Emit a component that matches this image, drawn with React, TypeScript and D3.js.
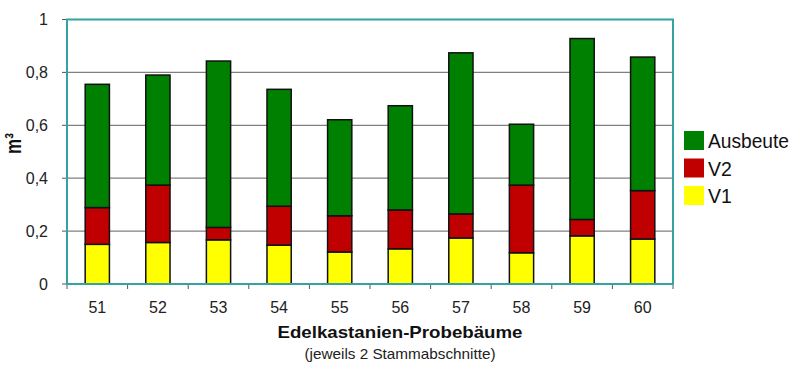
import React from "react";
import * as d3 from "d3";

const categories = ["51", "52", "53", "54", "55", "56", "57", "58", "59", "60"];
const v1 = [0.15, 0.157, 0.167, 0.147, 0.121, 0.133, 0.174, 0.118, 0.182, 0.17];
const v2 = [0.139, 0.217, 0.047, 0.147, 0.137, 0.147, 0.091, 0.256, 0.062, 0.183];
const ausbeute = [0.466, 0.416, 0.629, 0.442, 0.363, 0.394, 0.609, 0.23, 0.684, 0.505];
const yTicks = [0, 0.2, 0.4, 0.6, 0.8, 1];
const seriesNames = ["V1", "V2", "Ausbeute"];
const seriesColors = ["#FFFF00", "#C00000", "#008000"];
const legendOrder = ["Ausbeute", "V2", "V1"];

const W = 800, H = 376;
const L = 67, R = 673, T = 19.5, B = 284;
const FONT = "Liberation Sans, Arial, Helvetica, sans-serif";

export default function App() {
  const x = d3.scaleBand<string>().domain(categories).range([L, R]).paddingInner(0.6).paddingOuter(0.3);
  const y = d3.scaleLinear().domain([0, 1]).range([B, T]);
  const rows = categories.map((c, i) => ({ cat: c, V1: v1[i], V2: v2[i], Ausbeute: ausbeute[i] }));
  const stack = d3.stack<any>().keys(seriesNames)(rows);
  const fmt = (v: number) => (v === 0 || v === 1 ? String(v) : v.toFixed(1).replace(".", ","));
  const step = x.step();
  const bounds = d3.range(categories.length + 1).map((i) => L + i * step);

  return (
    <svg width={W} height={H} style={{ position: "absolute", left: 0, top: 0, background: "#fff" }} fontFamily={FONT}>
      <rect x={0} y={0} width={W} height={H} fill="#fff" />
      {yTicks.filter((t) => t > 0 && t < 1).map((t) => (
        <line key={t} x1={L} x2={R} y1={y(t)} y2={y(t)} stroke="#808080" strokeWidth={1.2} />
      ))}
      {yTicks.map((t) => (
        <g key={"yt" + t}>
          <line x1={L - 5} x2={L} y1={y(t)} y2={y(t)} stroke="#555" strokeWidth={1} />
          <text x={48} y={y(t)} dy="0.36em" textAnchor="end" fontSize={16} fill="#222">{fmt(t)}</text>
        </g>
      ))}
      {bounds.map((b, i) => (
        <line key={"xt" + i} x1={b} x2={b} y1={B} y2={B + 5} stroke="#555" strokeWidth={1} />
      ))}
      {stack.map((s, si) => (
        <g key={s.key}>
          {s.map((d: any, i: number) => (
            <rect key={i} x={x(categories[i])} width={x.bandwidth()} y={y(d[1])} height={y(d[0]) - y(d[1])}
              fill={seriesColors[si]} stroke="#111" strokeWidth={1.5} />
          ))}
        </g>
      ))}
      <rect x={L} y={T} width={R - L} height={B - T} fill="none" stroke="#33A3A3" strokeWidth={2} />
      {categories.map((c) => (
        <text key={c} x={(x(c) as number) + x.bandwidth() / 2} y={313} textAnchor="middle" fontSize={16} fill="#222">{c}</text>
      ))}
      <text x={400} y={338} textAnchor="middle" fontSize={16.5} fontWeight="bold" fill="#111" textLength={245} lengthAdjust="spacingAndGlyphs">Edelkastanien-Probebäume</text>
      <text x={400} y={359} textAnchor="middle" fontSize={15} fill="#222" textLength={191} lengthAdjust="spacingAndGlyphs">(jeweils 2 Stammabschnitte)</text>
      <text transform={`translate(21,143.5) rotate(-90) scale(1,1.3)`} textAnchor="middle" fontSize={17} fontWeight="bold" fill="#111">m³</text>
      {legendOrder.map((n, i) => {
        const si = seriesNames.indexOf(n);
        const yy = 131 + i * 27.5;
        return (
          <g key={n}>
            <rect x={684} y={yy} width={20} height={19} fill={seriesColors[si]} />
            <text x={708} y={yy + 17} fontSize={19.5} fill="#111" textLength={n === "Ausbeute" ? 81 : undefined} lengthAdjust="spacingAndGlyphs">{n}</text>
          </g>
        );
      })}
    </svg>
  );
}
